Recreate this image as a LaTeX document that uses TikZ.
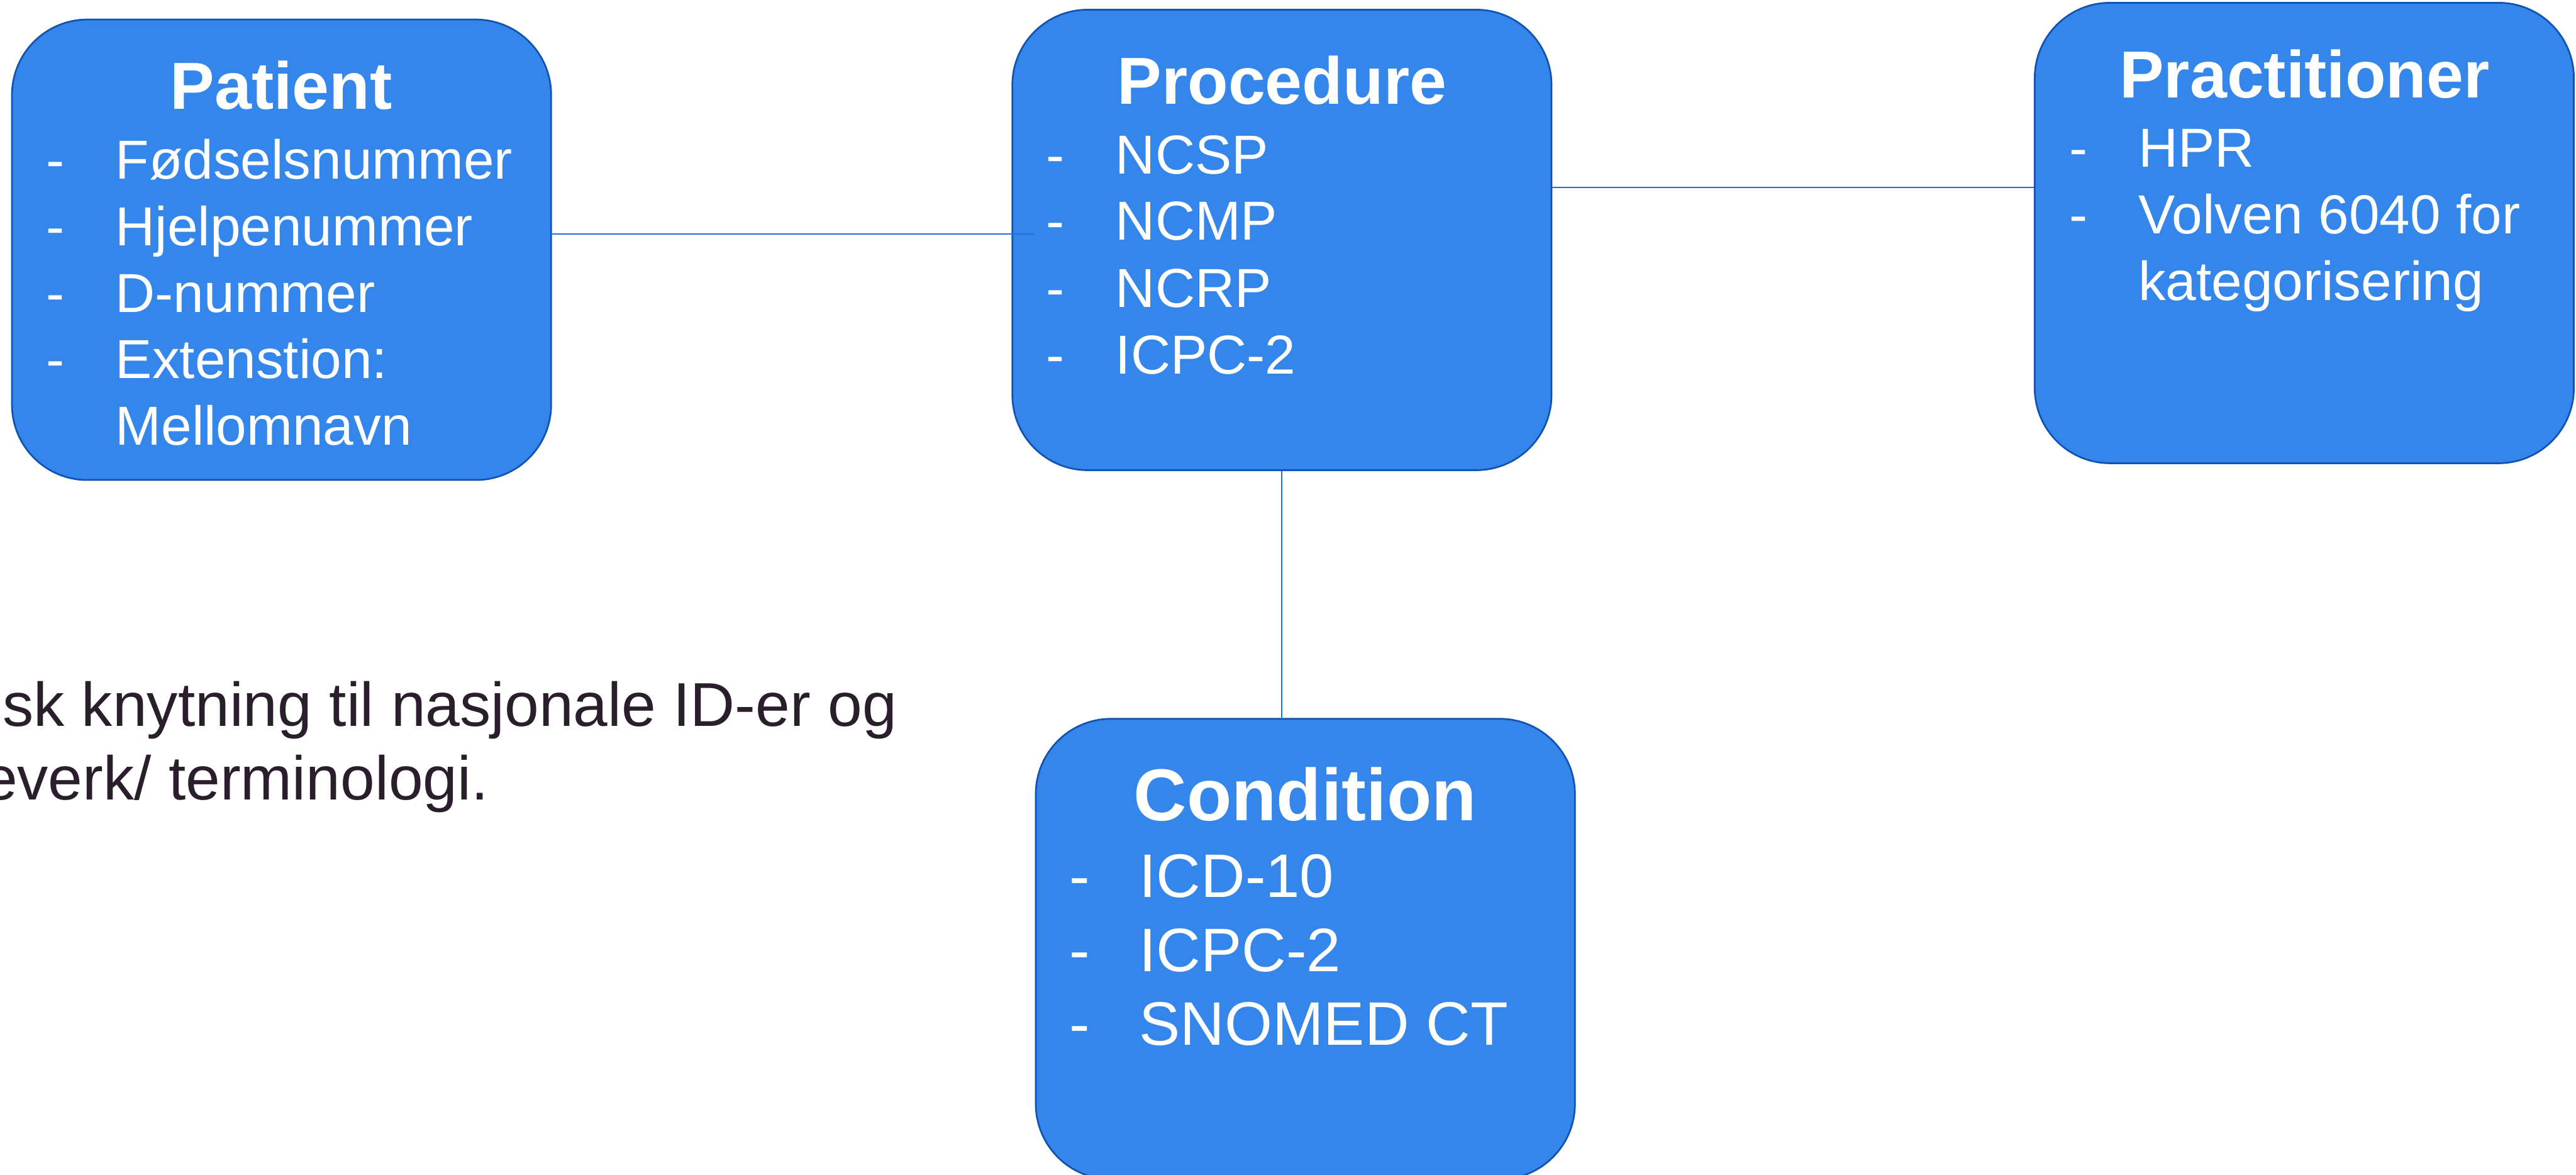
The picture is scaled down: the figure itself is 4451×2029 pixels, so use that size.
\documentclass[tikz,border=0pt]{standalone}
\usepackage{fontspec}
\setmainfont{Liberation Sans}
\definecolor{boxfill}{RGB}{53,134,234}
\definecolor{boxline}{RGB}{18,82,178}
\definecolor{linkblue}{RGB}{32,112,222}
\definecolor{bodytext}{RGB}{42,30,45}
\begin{document}
\begin{tikzpicture}[x=0.01cm,y=-0.01cm,
  entity/.style={draw=boxline, line width=0.85pt, fill=boxfill,
    rounded corners=1.3cm, minimum width=9.31cm, minimum height=7.95cm,
    inner sep=0pt},
  ttl/.style={anchor=base, inner sep=0pt, text=white,
    font=\fontsize{32.7pt}{39pt}\selectfont\bfseries},
  bigttl/.style={ttl, font=\fontsize{36.1pt}{43pt}\selectfont\bfseries},
  itm/.style={anchor=base west, inner sep=0pt, text=white,
    font=\fontsize{27pt}{32pt}\selectfont},
  bigitm/.style={itm, font=\fontsize{30.2pt}{36pt}\selectfont},
  note/.style={anchor=base west, inner sep=0pt, text=bodytext,
    font=\fontsize{30.4pt}{36pt}\selectfont},
  conn/.style={draw=linkblue, line width=0.6pt}]
\useasboundingbox (0,0) rectangle (4451,2029);

% entity boxes
\node[entity] (pat)  at (486.5,431.5) {};
\node[entity] (proc) at (2215,414.5) {};
\node[entity] (prac) at (3981.5,402.5) {};
\node[entity] (cond) at (2255.5,1639.5) {};

% Patient
\node[ttl] (patT) at (486,188) {Patient};
\node[itm] (patD1) at (79,309) {-};
\node[itm] (patI1) at (199,309) {Fødselsnummer};
\node[itm] (patD2) at (79,424) {-};
\node[itm] (patI2) at (199,424) {Hjelpenummer};
\node[itm] (patD3) at (79,539) {-};
\node[itm] (patI3) at (199,539) {D-nummer};
\node[itm] (patD4) at (79,654) {-};
\node[itm] (patI4) at (199,654) {Extenstion:};
\node[itm] (patI5) at (199,769) {Mellomnavn};

% Procedure
\node[ttl] (procT) at (2215,180) {Procedure};
\node[itm] (procD1) at (1807,300) {-};
\node[itm] (procI1) at (1927,300) {NCSP};
\node[itm] (procD2) at (1807,415) {-};
\node[itm] (procI2) at (1927,415) {NCMP};
\node[itm] (procD3) at (1807,531) {-};
\node[itm] (procI3) at (1927,531) {NCRP};
\node[itm] (procD4) at (1807,646) {-};
\node[itm] (procI4) at (1927,646) {ICPC-2};

% Practitioner
\node[ttl] (pracT) at (3982,169) {Practitioner};
\node[itm] (pracD1) at (3575,288) {-};
\node[itm] (pracI1) at (3694,288) {HPR};
\node[itm] (pracD2) at (3575,404) {-};
\node[itm] (pracI2) at (3694,404) {Volven 6040 for};
\node[itm] (pracI3) at (3694,519) {kategorisering};

% Condition
\node[bigttl] (condT) at (2255,1417) {Condition};
\node[bigitm] (condD1) at (1847,1550) {-};
\node[bigitm] (condI1) at (1968,1550) {ICD-10};
\node[bigitm] (condD2) at (1847,1678) {-};
\node[bigitm] (condI2) at (1968,1678) {ICPC-2};
\node[bigitm] (condD3) at (1847,1805) {-};
\node[bigitm] (condI3) at (1968,1805) {SNOMED CT};

% side note, running off the left edge
\node[note] (note1) at (4,1254) {sk knytning til nasjonale ID-er og};
\node[note] (note2) at (-30,1382) {everk/ terminologi.};

% links
\coordinate (patEnd) at (1787,404);
\draw[conn] (pat.east |- patEnd) -- (patEnd);
\draw[conn] (proc.east |- 0,324) -- (prac.west |- 0,324);
\draw[conn] (proc.south) -- (proc.south |- cond.north);
\end{tikzpicture}
\end{document}
